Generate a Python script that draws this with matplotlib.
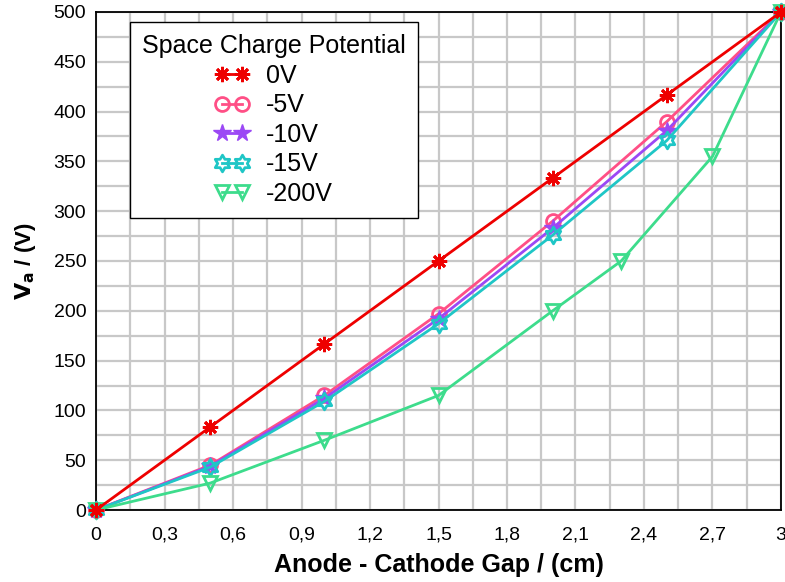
import numpy as np
import matplotlib
matplotlib.use("Agg")
import matplotlib.pyplot as plt
from matplotlib.ticker import MultipleLocator, FuncFormatter
from matplotlib.path import Path

plt.rcParams['font.family'] = ['Liberation Sans', 'DejaVu Sans']

# data
gap = [0, 0.5, 1.0, 1.5, 2.0, 2.5, 3.0]
gap_200 = [0, 0.5, 1.0, 1.5, 2.0, 2.3, 2.7, 3.0]
v_0 = [0, 83.3, 166.7, 250, 333.3, 416.7, 500]
v_5 = [0, 45, 115, 197, 290, 390, 500]
v_10 = [0, 44, 112, 192, 283, 381, 500]
v_15 = [0, 43, 109, 187, 276, 371, 500]
v_200 = [0, 27, 70, 115, 200, 250, 355, 500]
labels = ["0V", "-5V", "-10V", "-15V", "-200V"]

# six pointed star outline
ang = np.pi / 2 + np.arange(12) * np.pi / 6
rad = np.where(np.arange(12) % 2 == 0, 1.0, 0.58)
verts = np.column_stack([rad * np.cos(ang), rad * np.sin(ang)])
verts = np.vstack([verts, verts[0]])
hexstar = Path(verts, [Path.MOVETO] + [Path.LINETO] * 11 + [Path.CLOSEPOLY])

fig = plt.figure(figsize=(7.85, 5.82), dpi=100)
ax = fig.add_axes([0.1223, 0.1237, 0.8726, 0.8557])

ax.plot(gap, v_0, color="#ee0000", lw=2, marker=(8, 2, 0), ms=11, mew=2,
        label=labels[0], clip_on=False, zorder=5)
ax.plot(gap, v_5, color="#ff4f86", lw=2, marker="o", ms=10, mfc="none", mew=2,
        label=labels[1], clip_on=False, zorder=4)
ax.plot(gap, v_10, color="#9b48f5", lw=2, marker="*", ms=13, mew=1,
        label=labels[2], clip_on=False, zorder=4)
ax.plot(gap, v_15, color="#1fc6c6", lw=2, marker=hexstar, ms=12, mfc="none", mew=2,
        label=labels[3], clip_on=False, zorder=4)
ax.plot(gap_200, v_200, color="#3ddc8c", lw=2, marker="v", ms=10, mfc="none", mew=2,
        label=labels[4], clip_on=False, zorder=4)

ax.set_xlim(0, 3)
ax.set_ylim(0, 500)
ax.xaxis.set_major_locator(MultipleLocator(0.3))
ax.xaxis.set_minor_locator(MultipleLocator(0.15))
ax.yaxis.set_major_locator(MultipleLocator(50))
ax.yaxis.set_minor_locator(MultipleLocator(25))

def comma(v, pos):
    s = f"{v:.1f}".rstrip("0").rstrip(".")
    return s.replace(".", ",")

ax.xaxis.set_major_formatter(FuncFormatter(comma))
ax.grid(True, which="both", color="#c8c8c8", lw=1.6)
ax.set_axisbelow(True)
ax.tick_params(which="both", length=0, labelsize=14)
ax.tick_params(axis="x", pad=12)
ax.tick_params(axis="y", pad=7)
for s in ax.spines.values():
    s.set_color("black")
    s.set_linewidth(1.3)

ax.set_xlabel("Anode - Cathode Gap / (cm)", fontsize=18, fontweight="bold", labelpad=7)
ax.set_ylabel(r"$\mathbf{V_a}$ / (V)", fontsize=16, fontweight="bold", labelpad=11)

leg = ax.legend(title="Space Charge Potential", loc="upper left",
                bbox_to_anchor=(0.049, 0.98), fontsize=18, title_fontsize=18,
                numpoints=2, fancybox=False, framealpha=1, edgecolor="black",
                borderpad=0.5, labelspacing=0.22, handlelength=1.4,
                handletextpad=0.65, borderaxespad=0)
leg.get_frame().set_linewidth(1.0)

fig.savefig("out.png", dpi=100)
